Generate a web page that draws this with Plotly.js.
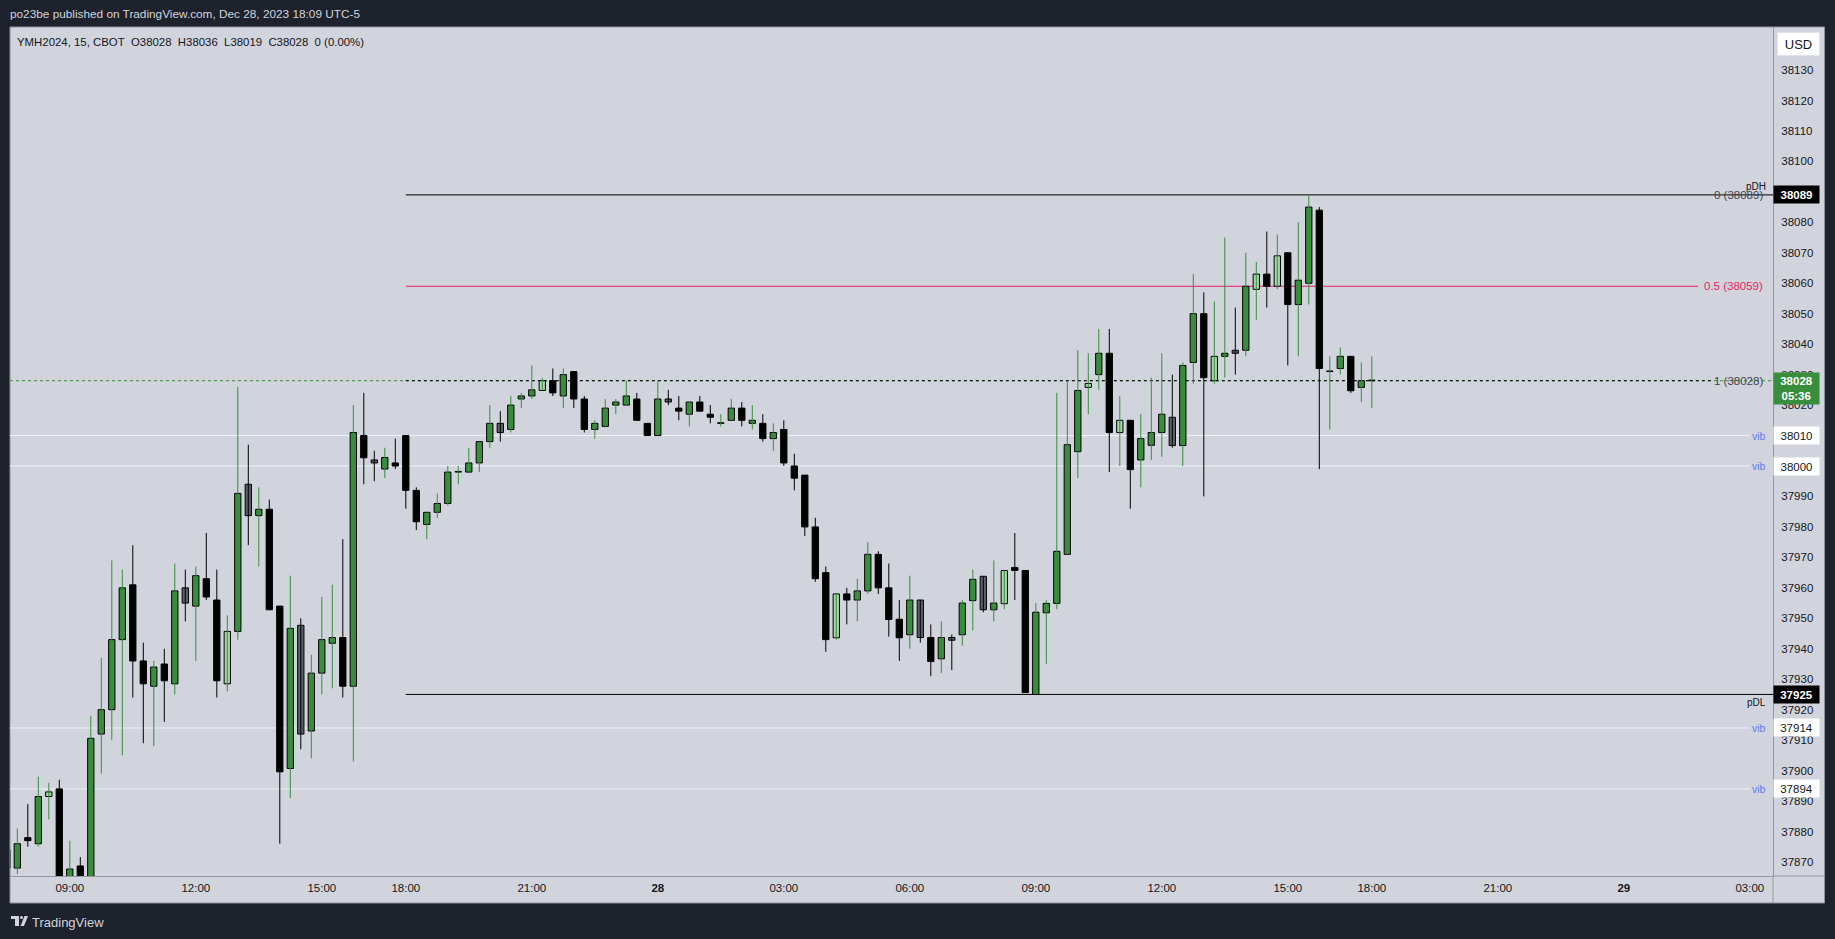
<!DOCTYPE html>
<html><head><meta charset="utf-8">
<script src="https://cdn.plot.ly/plotly-3.0.1.min.js"></script>
<style>html,body{margin:0;padding:0;background:#1e222d;overflow:hidden}#chart{width:1835px;height:939px}</style>
</head><body><div id="chart"></div>
<script>
// ---------------- DATA (15-min bars, YMH2024, from 07:30 Dec 27 to 18:00 Dec 28) ----------------
const firstBarIndex = -1; // bar index of the first value (index 5 = 09:00 Dec 27)
const opens = [
 37874,37868,37878,37876,37891.5,37894,37860,37868.7,37861,37912,
 37920,37943,37961,37936,37927.7,37935,37928.5,37960,37954,37963,
 37956,37928.5,37945.7,37994,37983.7,37985.8,37954,37900.7,37947.7,37913,
 37932,37941.8,37943.7,37927.7,38010,38002,37999,38001,38010,37992,
 37980.8,37984.8,37987.7,37998,37998,38001,38008,38014,38012,38022,
 38023,38024.8,38028,38023,38031,38022,38012,38013,38020,38020,
 38022,38014,38010,38022,38019,38017,38021,38017,38014,38015,
 38019,38014,38014,38009,38012,38000,37997,37980,37965,37943.6,
 37958,37956,37959,37971,37960,37949.7,37944.6,37956,37943.7,37936.7,
 37943.7,37944.6,37955.8,37963.8,37952.8,37954.8,37966.7,37965.7,37925,37951.8,
 37954.9,37971,38004.7,38025.8,38030,38037,38011,38015,38002,38006.8,
 38011,38016,38006.7,38034,38050,38028,38036,38038,38038,38058,
 38063,38059,38070,38053,38060,38084,38031,38032,38036,38025.8,38028];
const highs = [
 37876,37881,37889,37898,37896,37897,37877,37871.6,37918,37937,
 37969,37966,37974,37942,37936,37940,37968,37966,37967,37978,
 37966,37951,38026,38007,37993,37989,37954,37964,37950,37938,
 37957,37961,37976,38020,38024,38005,38006,38009,38010,37993,
 37984.8,37991,38000,38000,38006,38008,38020,38018,38023,38024,
 38033,38029,38032,38032,38031,38023,38015,38022,38022,38028,
 38024,38014,38028,38025,38023,38021,38023,38020,38017,38022,
 38021,38020,38017,38014,38015,38004,37997,37983,37967,37958,
 37960,37963,37975,37972,37968,37956,37964,37956,37948,37949,
 37944.7,37956,37966,37963.8,37969,37965.7,37978,37965.7,37955,37956,
 38024,38028,38038,38037,38045,38045,38023,38015,38017,38029,
 38037,38030,38034,38063,38057,38054,38075,38052,38070,38067,
 38077,38076,38070,38080,38089,38085,38036,38039,38036,38034,38036];
const lows = [
 37866,37866,37875,37875,37884,37856,37856,37858,37858,37899,
 37910,37905,37924,37909,37908,37916,37925,37949,37936,37956,
 37924,37926,37943,37974,37967,37952.8,37876,37891,37907,37904,
 37925,37927,37924,37903,37994,37995,37996,37999,37986,37979,
 37976,37983,37987,37994,37998,37998,38006,38008,38011,38019,
 38022,38024.8,38023,38019,38019,38011,38009,38013,38017,38020,
 38015,38010,38010,38020,38015,38013,38018,38014,38013,38015,
 38013,38012,38008,38005,38000,37992,37977,37962,37939,37943,
 37948,37949,37958,37958,37944,37936,37940,37942,37931,37932,
 37933,37941,37946,37952,37949,37953,37956,37925.6,37925,37935,
 37953,37971,37996,38017,38025,37998,38000,37986,37993,38002,
 38003,38006,38000,38027,37990,38027,38029,38030,38036,38048,
 38052,38058,38033,38036,38053,37999,38012,38030,38024,38021,38019];
const closes = [
 37868,37876,37877,37891.5,37893,37860,37867.7,37861,37910.6,37920,
 37943,37960,37936,37928.5,37934,37929.5,37959,37955,37964,37957,
 37929.5,37945.7,37991,37983.7,37985.8,37952.8,37899.6,37946.7,37912,37932,
 37943,37943.7,37927.7,38011,38002.7,38001,38002.8,38000,37992,37981.7,
 37984.8,37987.7,37998,37998,38001,38008,38014,38011,38020,38023,
 38025,38028,38024,38030,38022,38012,38014,38019,38021,38023,
 38015,38010,38022,38021,38018,38021,38018,38016,38014,38019,
 38015,38015,38009,38011,38001,37996,37980,37963,37943,37958,
 37956,37959,37971,37960,37949.6,37943.6,37956,37943.7,37935.8,37943.7,
 37942.8,37955,37962.8,37952.8,37955,37965.7,37965.7,37925.6,37952,37954.9,
 37972,38007,38024.8,38027.1,38037,38011,38015,37998.8,38009,38011,
 38017,38006.7,38033,38050,38029,38036,38037,38037,38059,38063,
 38059,38069,38053,38061,38085,38032,38031,38036,38024.7,38028,38028];
// candle colour class: g = green, l = light green, b = black, d = dark grey
const kinds = [
 'b','g','b','g','l','b','g','b','g','g',
 'g','g','b','b','g','b','g','d','g','b',
 'b','l','g','d','g','b','b','g','d','g',
 'g','g','b','g','b','d','g','b','b','b',
 'g','g','g','g','g','g','g','d','g','g',
 'g','l','b','g','b','b','g','g','g','g',
 'b','b','g','d','b','g','b','b','g','g',
 'b','g','b','g','b','b','b','b','b','l',
 'b','g','g','b','b','b','g','d','b','g',
 'd','g','g','d','g','l','b','b','g','g',
 'g','g','g','l','g','b','l','b','g','g',
 'g','d','g','g','b','l','g','d','g','l',
 'b','l','b','g','g','b','g','g','b','g','g'];
const tickBars = [5,17,29,37,49,61,73,85,97,109,121,129,141,153,165];
const tickLabels = ['09:00','12:00','15:00','18:00','21:00','<b>28</b>','03:00','06:00','09:00','12:00','15:00','18:00','21:00','<b>29</b>','03:00'];
const priceTicks = [37870,37880,37890,37900,37910,37920,37930,37940,37950,37960,37970,37980,37990,38000,38010,38020,38030,38040,38050,38060,38070,38080,38090,38100,38110,38120,38130];
const fibStartBar = 37;
const fibRatios = ['0','0.5','1'];
const fibLevels = [38089,38059,38028];
const pdh = 38089, pdl = 37925;
const vibLevels = [38010,38000,37914,37894];
const lastPrice = 38028, countdown = '05:36';
const symbolInfo = ['YMH2024','15','CBOT'];

// ---------------- LAYOUT HELPERS ----------------
const F = '"Liberation Sans",Arial,sans-serif';
const PL = 10, PR = 1773, PT = 27, PB = 876;
const X = px => (px - PL) / (PR - PL);
const Y = py => (PB - py) / (PB - PT);
const xRange = [-0.695, 167.21];
const yRange = [37865.4, 38144.12];
const GREEN = '#388e3c';
const fillOf = {g: GREEN, l: '#a5d6a7', b: '#000000', d: '#5d606b'};
const isUp = k => k === 'g' || k === 'l';
const bars = opens.map((_, i) => firstBarIndex + i);

function wicks(up, color) {
  const x = [], y = [];
  kinds.forEach((k, i) => {
    if (isUp(k) !== up) return;
    x.push(bars[i], bars[i], null);
    y.push(lows[i], highs[i], null);
  });
  return {type: 'scatter', mode: 'lines', x, y, line: {color, width: 1}, hoverinfo: 'skip'};
}
const bodies = {
  type: 'bar', x: bars,
  base: bars.map((_, i) => Math.min(opens[i], closes[i])),
  y: bars.map((_, i) => Math.max(Math.abs(closes[i] - opens[i]), 0.2)),
  width: 0.6,
  marker: {color: kinds.map(k => fillOf[k]), line: {color: '#000000', width: 1}},
  hoverinfo: 'skip'
};

const shapes = [
  {type: 'rect', xref: 'paper', yref: 'paper', x0: X(10), x1: X(1824.5), y0: Y(903), y1: Y(27),
   fillcolor: '#d1d4dc', line: {color: '#8f929b', width: 1}, layer: 'below'},
  {type: 'line', xref: 'paper', yref: 'paper', x0: X(1773), x1: X(1773), y0: Y(876), y1: Y(903), line: {color: '#9598a1', width: 1}, layer: 'below'},
  {type: 'line', xref: 'paper', yref: 'paper', x0: X(1773), x1: X(1824.5), y0: Y(876), y1: Y(876), line: {color: '#9598a1', width: 1}, layer: 'below'}
];
vibLevels.forEach(v => shapes.push({type: 'line', xref: 'x', yref: 'y', x0: xRange[0], x1: 165.0, y0: v, y1: v,
  line: {color: '#f0f3fa', width: 1}, layer: 'below'}));
shapes.push({type: 'line', xref: 'paper', yref: 'y', x0: 0, x1: 1, y0: lastPrice, y1: lastPrice,
  line: {color: GREEN, width: 1, dash: 'dot'}, layer: 'below'});
shapes.push({type: 'line', xref: 'x', yref: 'y', x0: fibStartBar, x1: xRange[1], y0: fibLevels[0], y1: fibLevels[0], line: {color: '#000000', width: 1}, layer: 'below'});
shapes.push({type: 'line', xref: 'x', yref: 'y', x0: fibStartBar, x1: 160.07, y0: fibLevels[1], y1: fibLevels[1], line: {color: '#e91e63', width: 1}, layer: 'below'});
shapes.push({type: 'line', xref: 'x', yref: 'y', x0: fibStartBar, x1: 161.3, y0: fibLevels[2], y1: fibLevels[2], line: {color: '#000000', width: 1, dash: '3px,3px'}, layer: 'below'});
shapes.push({type: 'line', xref: 'x', yref: 'y', x0: fibStartBar, x1: xRange[1], y0: pdl, y1: pdl, line: {color: '#000000', width: 1}, layer: 'below'});
// TradingView logo (simple shapes)
shapes.push({type: 'rect', xref: 'paper', yref: 'paper', x0: X(11), x1: X(19), y0: Y(919), y1: Y(916), fillcolor: '#d1d4dc', line: {width: 0}});
shapes.push({type: 'rect', xref: 'paper', yref: 'paper', x0: X(15), x1: X(19), y0: Y(926), y1: Y(916), fillcolor: '#d1d4dc', line: {width: 0}});
shapes.push({type: 'circle', xref: 'paper', yref: 'paper', x0: X(20), x1: X(23), y0: Y(919), y1: Y(916), fillcolor: '#d1d4dc', line: {width: 0}});
shapes.push({type: 'path', xref: 'paper', yref: 'paper', path: `M ${X(24.5)} ${Y(916)} L ${X(28)} ${Y(916)} L ${X(24)} ${Y(926)} L ${X(20.5)} ${Y(926)} Z`, fillcolor: '#d1d4dc', line: {width: 0}});

// price tags on the axis (these cover the tick labels at the same level)
const tagLevels = [pdh, pdl, lastPrice].concat(vibLevels);
const shownTicks = priceTicks.filter(t => !tagLevels.some(v => Math.abs(v - t) <= 1.5));

const ann = [];
const nb = '\u00a0';
ann.push({xref: 'paper', yref: 'paper', x: X(8), y: Y(14), xanchor: 'left', yanchor: 'middle', showarrow: false,
  text: 'po23be published on TradingView.com, Dec 28, 2023 18:09 UTC-5', font: {family: F, size: 11.8, color: '#d1d4dc'}});
const last = opens.length - 1;
const chg = closes[last] - closes[last - 1];
const chgPct = (chg / closes[last - 1] * 100).toFixed(2);
ann.push({xref: 'paper', yref: 'paper', x: X(15), y: Y(42), xanchor: 'left', yanchor: 'middle', showarrow: false,
  text: `${symbolInfo.join(', ')}${nb}${nb}O${opens[last]}${nb}${nb}H${highs[last]}${nb}${nb}L${lows[last]}${nb}${nb}C${closes[last]}${nb}${nb}${chg} (${chgPct}%)`,
  font: {family: F, size: 11.4, color: '#131722'}});
const fibColors = ['#434651', '#e91e63', '#434651'];
fibLevels.forEach((v, i) => ann.push({xref: 'paper', yref: 'y', x: X(1765), y: v, xanchor: 'right', yanchor: 'middle', showarrow: false,
  text: `${fibRatios[i]} (${v})`, font: {family: F, size: 11.5, color: fibColors[i]}}));
ann.push({xref: 'paper', yref: 'y', x: X(1768), y: pdh, xanchor: 'right', yanchor: 'bottom', yshift: 1, showarrow: false,
  text: 'pDH', font: {family: F, size: 10, color: '#131722'}});
ann.push({xref: 'paper', yref: 'y', x: X(1768), y: pdl, xanchor: 'right', yanchor: 'top', yshift: -1, showarrow: false,
  text: 'pDL', font: {family: F, size: 10, color: '#131722'}});
vibLevels.forEach(v => ann.push({xref: 'paper', yref: 'y', x: X(1768), y: v, xanchor: 'right', yanchor: 'middle', showarrow: false,
  text: 'vib', font: {family: F, size: 10.5, color: '#5b7cf7'}}));
function tag(price, text, bg, fg, bold, h) {
  ann.push({xref: 'paper', yref: 'y', x: X(1773), y: price, xanchor: 'left', yanchor: h ? 'top' : 'middle', yshift: h ? 9 : 0,
    showarrow: false, align: 'center', width: 41, height: h || 13, borderpad: 2, bgcolor: bg,
    text: bold ? `<b>${text}</b>` : text, font: {family: F, size: 11.5, color: fg}});
}
vibLevels.forEach(v => tag(v, String(v), '#ffffff', '#131722', false));
tag(pdh, String(pdh), '#000000', '#ffffff', true);
tag(pdl, String(pdl), '#000000', '#ffffff', true);
tag(lastPrice, `${lastPrice}<br>${countdown}`, GREEN, '#ffffff', true, 27);
ann.push({xref: 'paper', yref: 'paper', x: X(1798.5), y: Y(44), xanchor: 'center', yanchor: 'middle', showarrow: false,
  text: 'USD', width: 37, height: 18, borderpad: 2, bgcolor: '#ffffff', bordercolor: '#e0e3eb', borderwidth: 1,
  font: {family: F, size: 13, color: '#131722'}});
ann.push({xref: 'paper', yref: 'paper', x: X(30), y: Y(922), xanchor: 'left', yanchor: 'middle', showarrow: false,
  text: 'TradingView', font: {family: F, size: 13, color: '#d1d4dc'}});

const layout = {
  width: 1835, height: 939,
  margin: {l: PL, r: 1835 - PR, t: PT, b: 939 - PB, pad: 0},
  paper_bgcolor: '#1e222d', plot_bgcolor: '#d1d4dc',
  showlegend: false, hovermode: false, dragmode: false, bargap: 0,
  xaxis: {range: xRange, tickvals: tickBars, ticktext: tickLabels, showgrid: false, zeroline: false,
    showline: true, linecolor: '#9598a1', linewidth: 1, ticks: 'outside', ticklen: 1, tickcolor: 'rgba(0,0,0,0)',
    tickfont: {family: F, size: 11.5, color: '#131722'}, fixedrange: true},
  yaxis: {side: 'right', range: yRange, tickvals: shownTicks, ticktext: shownTicks.map(String), showgrid: false, zeroline: false,
    showline: true, linecolor: '#9598a1', linewidth: 1, ticks: 'outside', ticklen: 5, tickcolor: 'rgba(0,0,0,0)',
    tickfont: {family: F, size: 11.5, color: '#131722'}, fixedrange: true},
  shapes, annotations: ann
};
Plotly.newPlot('chart', [wicks(true, GREEN), wicks(false, '#000000'), bodies], layout, {displayModeBar: false, staticPlot: true});
</script></body></html>
